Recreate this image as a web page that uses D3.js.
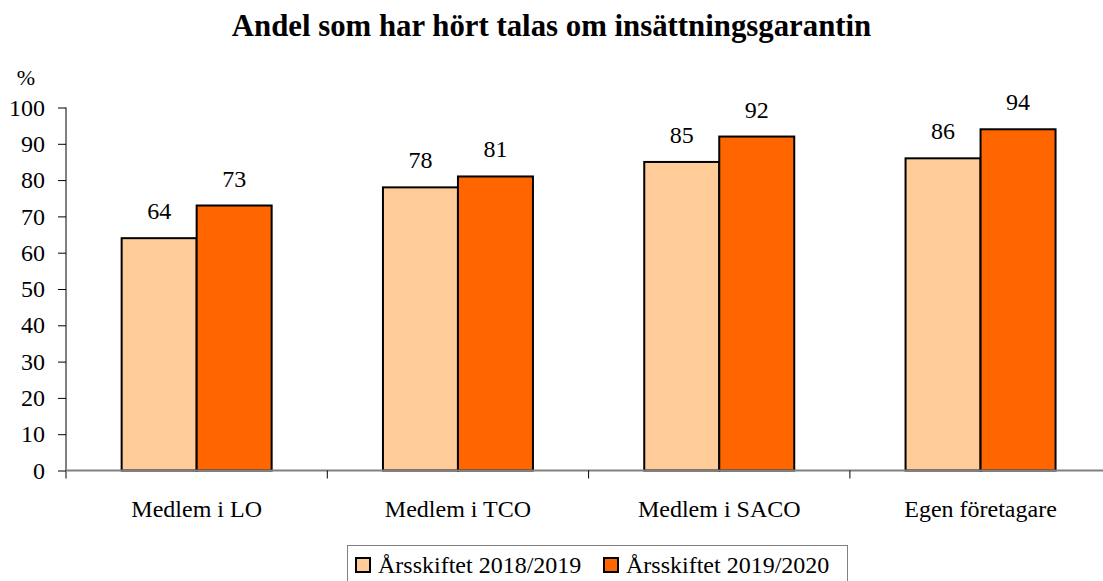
<!DOCTYPE html>
<html>
<head>
<meta charset="utf-8">
<script src="https://cdn.jsdelivr.net/npm/d3@7"></script>
<style>
  body { margin: 0; background: #fff; }
  svg { display: block; font-family: "Liberation Serif", "Times New Roman", serif; }
</style>
</head>
<body>
<div id="chart"></div>
<script>
const categories = ["Medlem i LO", "Medlem i TCO", "Medlem i SACO", "Egen företagare"];
const seriesNames = ["Årsskiftet 2018/2019", "Årsskiftet 2019/2020"];
const values2019 = [64, 78, 85, 86];
const values2020 = [73, 81, 92, 94];
const yTicks = [0, 10, 20, 30, 40, 50, 60, 70, 80, 90, 100];
const colors = ["#FFCC99", "#FF6600"];

const width = 1103, height = 581;
const plotLeft = 66, plotTop = 107.5, plotBottom = 470.5;
const groupW = 261.3;

const svg = d3.select("#chart").append("svg")
    .attr("width", width)
    .attr("height", height);

const data = categories.map((c, i) => ({cat: c, vals: [values2019[i], values2020[i]]}));

const x = d3.scaleBand()
    .domain(categories)
    .range([plotLeft, plotLeft + groupW * categories.length])
    .padding(0);

const xSub = d3.scaleBand()
    .domain([0, 1])
    .range([groupW / 2 - 75, groupW / 2 + 75])
    .padding(0);

const y = d3.scaleLinear()
    .domain([0, 100])
    .range([plotBottom, plotTop]);

// title
svg.append("text")
    .attr("x", width / 2)
    .attr("y", 36)
    .attr("text-anchor", "middle")
    .style("font-weight", "bold")
    .style("font-size", "30.8px")
    .text("Andel som har hört talas om insättningsgarantin");

svg.append("text")
    .attr("x", 26)
    .attr("y", 85)
    .attr("text-anchor", "middle")
    .style("font-size", "22px")
    .text("%");

// bars
let g = svg.selectAll("g.group").data(data).enter()
    .append("g")
    .attr("class", "group")
    .attr("transform", d => `translate(${x(d.cat)},0)`);

g.selectAll("rect").data(d => d.vals).enter()
    .append("rect")
    .attr("x", (d, i) => xSub(i))
    .attr("y", d => y(d))
    .attr("width", xSub.bandwidth())
    .attr("height", d => y(0) - y(d))
    .attr("fill", (d, i) => colors[i])
    .attr("stroke", "#000")
    .attr("stroke-width", 2);

g.selectAll("text.val").data(d => d.vals).enter()
    .append("text")
    .attr("class", "val")
    .attr("x", (d, i) => xSub(i) + xSub.bandwidth() / 2)
    .attr("y", d => y(d) - 19)
    .attr("text-anchor", "middle")
    .style("font-size", "24px")
    .text(d => d);

// y axis
const yAxis = svg.append("g")
    .attr("transform", `translate(${plotLeft},0)`)
    .call(d3.axisLeft(y).tickValues(yTicks).tickSize(8).tickPadding(13));
yAxis.attr("font-family", null);
yAxis.select(".domain").attr("stroke", "#808080").attr("stroke-width", 2)
    .attr("d", `M0,${plotTop}V${plotBottom + 8}`);
yAxis.selectAll(".tick line").attr("stroke", "#000").attr("stroke-width", 1);
yAxis.selectAll(".tick text")
    .style("font-size", "24px")
    .attr("fill", "#000");

// x axis
const xAxis = svg.append("g")
    .attr("transform", `translate(0,${plotBottom})`);
xAxis.append("line")
    .attr("x1", plotLeft).attr("x2", plotLeft + groupW * categories.length)
    .attr("stroke", "#808080").attr("stroke-width", 2);
xAxis.selectAll("line.tick").data(categories.slice(1)).enter()
    .append("line")
    .attr("class", "tick")
    .attr("x1", d => x(d)).attr("x2", d => x(d))
    .attr("y1", 0).attr("y2", 8)
    .attr("stroke", "#000");
xAxis.selectAll("text").data(categories).enter()
    .append("text")
    .attr("x", d => x(d) + x.bandwidth() / 2)
    .attr("y", 46.5)
    .attr("text-anchor", "middle")
    .style("font-size", "24px")
    .text(d => d);

// legend
const legend = svg.append("g");
legend.append("rect")
    .attr("x", 347.5).attr("y", 545.5)
    .attr("width", 500).attr("height", 50)
    .attr("fill", "none")
    .attr("stroke", "#808080")
    .attr("stroke-width", 1);
const legendX = [356, 604];
const li = legend.selectAll("g.item").data(seriesNames).enter()
    .append("g")
    .attr("class", "item")
    .attr("transform", (d, i) => `translate(${legendX[i]},0)`);
li.append("rect")
    .attr("x", 0).attr("y", 558)
    .attr("width", 14).attr("height", 14)
    .attr("fill", (d, i) => colors[i])
    .attr("stroke", "#000")
    .attr("stroke-width", 2);
li.append("text")
    .attr("x", 22).attr("y", 573)
    .style("font-size", "24px")
    .text(d => d);
</script>
</body>
</html>
